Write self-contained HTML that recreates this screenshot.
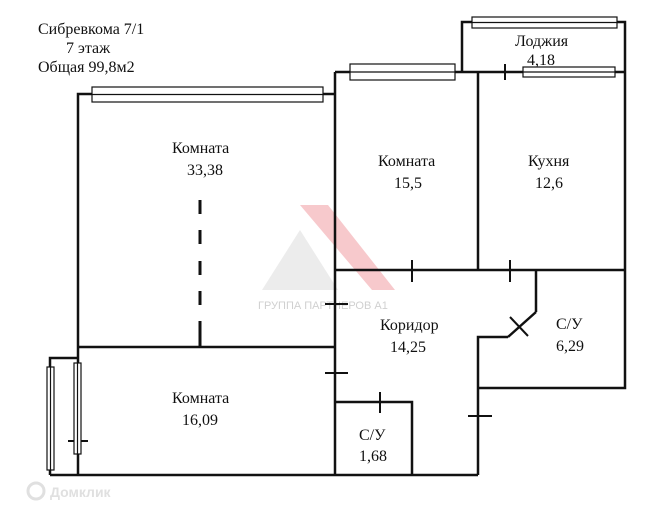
<!DOCTYPE html>
<html><head><meta charset="utf-8"><style>
body{margin:0;background:#fff;}
svg{display:block}
text{font-family:"Liberation Serif",serif;font-size:16px;fill:#111}
</style></head><body>
<svg width="653" height="517" viewBox="0 0 653 517">
<!-- watermark -->
<polygon points="300,205 328,205 395,290 372,290" fill="#f7c9cc"/>
<polygon points="262,290 300,230 338,290" fill="#ececec"/>
<text x="258" y="309" style="font-family:'Liberation Sans',sans-serif;font-size:11px;fill:#d0d0d0">ГРУППА ПАРТНЕРОВ А1</text>
<text x="50" y="497" style="font-family:'Liberation Sans',sans-serif;font-size:14px;fill:#e0e0e0;font-weight:bold">Домклик</text>
<circle cx="36" cy="491" r="8" fill="none" stroke="#e0e0e0" stroke-width="3"/>

<g stroke="#111" stroke-width="2.5" fill="none">
<!-- big room -->
<polyline points="78,475 78,94 335,94"/>
<line x1="335" y1="72" x2="335" y2="475"/>
<line x1="335" y1="72" x2="625" y2="72"/>
<polyline points="462,72 462,22 625,22 625,388 478,388"/>
<line x1="478" y1="72" x2="478" y2="270"/>
<line x1="335" y1="270" x2="625" y2="270"/>
<line x1="78" y1="347" x2="335" y2="347"/>
<polyline points="536,270 536,312"/>
<line x1="508" y1="337" x2="536" y2="312"/>
<polyline points="508,337 478,337 478,475"/>
<polyline points="335,402 412,402 412,475"/>
<line x1="50" y1="475" x2="478" y2="475"/>
<polyline points="50,475 50,358 78,358"/>
</g>
<g stroke="#111" stroke-width="3">
<line x1="200" y1="200" x2="200" y2="214"/>
<line x1="200" y1="230" x2="200" y2="244"/>
<line x1="200" y1="261" x2="200" y2="275"/>
<line x1="200" y1="291" x2="200" y2="305"/>
<line x1="200" y1="321" x2="200" y2="347"/>
</g>
<g stroke="#111" stroke-width="2">
<line x1="412" y1="260" x2="412" y2="282"/>
<line x1="510" y1="260" x2="510" y2="282"/>
<line x1="505" y1="64" x2="505" y2="80"/>
<line x1="325" y1="304" x2="348" y2="304"/>
<line x1="325" y1="373" x2="348" y2="373"/>
<line x1="380" y1="392" x2="380" y2="413"/>
<line x1="468" y1="416" x2="492" y2="416"/>
<line x1="68" y1="441" x2="88" y2="441"/>
<line x1="510" y1="317" x2="528" y2="336"/>
</g>
<!-- windows -->
<g fill="#fff" stroke="#111" stroke-width="1.2">
<rect x="92" y="87" width="231" height="15"/><line x1="92" y1="94.5" x2="323" y2="94.5"/>
<rect x="350" y="64" width="105" height="16"/><line x1="350" y1="72" x2="455" y2="72"/>
<rect x="472" y="17" width="145" height="11"/><line x1="472" y1="22.5" x2="617" y2="22.5"/>
<rect x="523" y="67" width="92" height="10"/><line x1="523" y1="72" x2="615" y2="72"/>
<rect x="47" y="367" width="7" height="103"/><line x1="50.5" y1="367" x2="50.5" y2="470"/>
<rect x="74" y="363" width="7" height="91"/><line x1="77.5" y1="363" x2="77.5" y2="454"/>
</g>
<text x="38" y="34">Сибревкома 7/1</text>
<text x="66" y="53">7 этаж</text>
<text x="38" y="72">Общая 99,8м2</text>
<text x="515" y="46">Лоджия</text>
<text x="527" y="65">4,18</text>
<text x="172" y="153">Комната</text>
<text x="187" y="175">33,38</text>
<text x="378" y="166">Комната</text>
<text x="394" y="188">15,5</text>
<text x="528" y="166">Кухня</text>
<text x="535" y="188">12,6</text>
<text x="380" y="330">Коридор</text>
<text x="390" y="352">14,25</text>
<text x="556" y="329">С/У</text>
<text x="556" y="351">6,29</text>
<text x="172" y="403">Комната</text>
<text x="182" y="425">16,09</text>
<text x="359" y="440">С/У</text>
<text x="359" y="461">1,68</text>
</svg>
</body></html>
